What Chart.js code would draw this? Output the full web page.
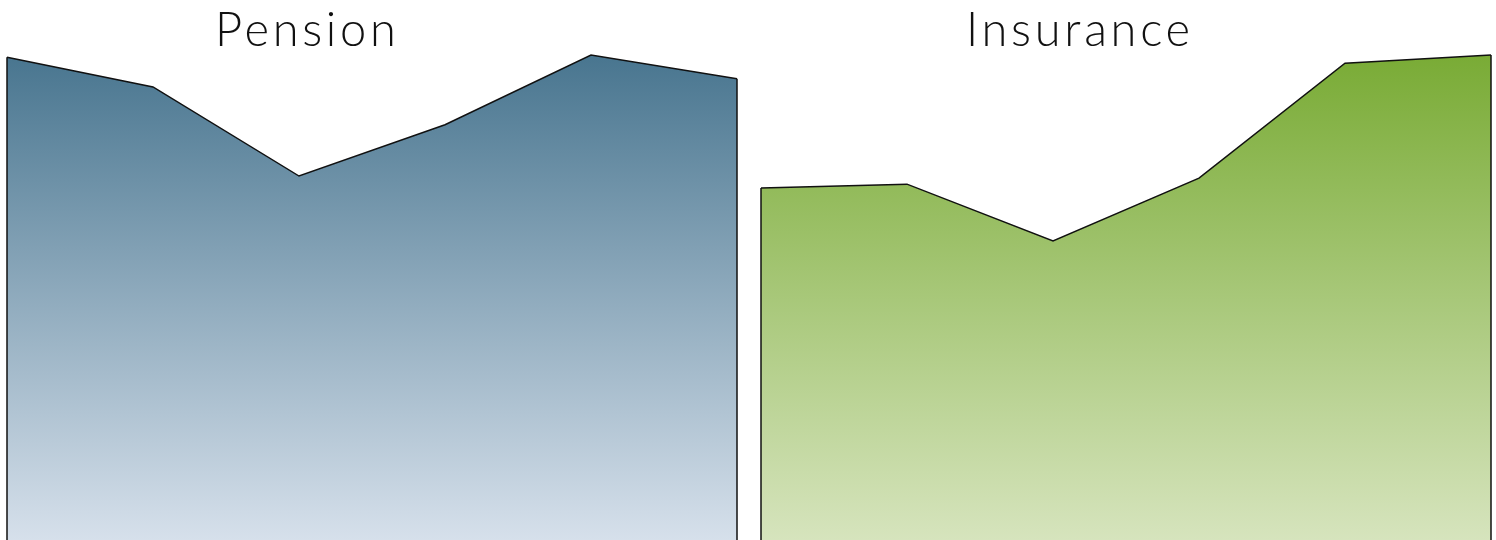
<!DOCTYPE html>
<html>
<head>
<meta charset="utf-8">
<script src="https://cdn.jsdelivr.net/npm/chart.js@4/dist/chart.umd.min.js"></script>
<style>
  html, body { margin: 0; padding: 0; background: #fff; }
  .wrap { position: relative; width: 1496px; height: 540px; overflow: hidden; }
  .panel { position: absolute; top: 0; width: 748px; height: 540px; }
  .panel canvas { display: block; }
  .title {
    position: absolute; top: 0;
    font-family: Lato, "Open Sans", sans-serif; font-weight: 300;
    font-size: 47px; color: #111; letter-spacing: 3.7px; white-space: nowrap;
  }
</style>
</head>
<body>
<div class="wrap">
  <div class="panel" style="left:0"><canvas id="chart-pension" width="748" height="540"></canvas></div>
  <div class="panel" style="left:748px"><canvas id="chart-insurance" width="748" height="540"></canvas></div>
  <div class="title" id="title-pension" style="left:215px">Pension</div>
  <div class="title" id="title-insurance" style="left:966px">Insurance</div>
</div>
<script>
// ─── Data ────────────────────────────────────────────────────────────────────
const periods        = ['P1', 'P2', 'P3', 'P4', 'P5', 'P6'];
const pensionValues   = [89.4, 83.9, 67.4, 76.9, 89.8, 85.4];
const insuranceValues = [65.2, 65.9, 55.4, 67.0, 88.3, 89.8];
const yMin = 0, yMax = 100;

// ─── Closes the area with vertical edges down to the axis ────────────────────
const sideEdges = {
  id: 'sideEdges',
  afterDatasetsDraw(chart) {
    const meta = chart.getDatasetMeta(0);
    const pts = meta.data;
    if (!pts.length) return;
    const bottom = chart.scales.y.getPixelForValue(yMin);
    const ctx = chart.ctx;
    ctx.save();
    ctx.strokeStyle = '#111';
    ctx.lineWidth = 1.5;
    [pts[0], pts[pts.length - 1]].forEach(p => {
      ctx.beginPath();
      ctx.moveTo(p.x, p.y);
      ctx.lineTo(p.x, bottom + 2);
      ctx.stroke();
    });
    ctx.restore();
  },
};

function areaGradient(top, bottom) {
  return function (context) {
    const { chart } = context;
    if (!chart.chartArea) return top;
    const y = chart.scales.y;
    const g = chart.ctx.createLinearGradient(0, y.getPixelForValue(90), 0, y.getPixelForValue(yMin));
    g.addColorStop(0, top);
    g.addColorStop(1, bottom);
    return g;
  };
}

function makeChart(id, values, topColor, bottomColor, padLeft, padRight) {
  return new Chart(document.getElementById(id).getContext('2d'), {
    type: 'line',
    data: {
      labels: periods,
      datasets: [{
        data: values,
        borderColor: '#111',
        borderWidth: 1.5,
        backgroundColor: areaGradient(topColor, bottomColor),
        fill: 'origin',
        tension: 0,
        pointRadius: 0,
      }],
    },
    options: {
      responsive: false, animation: false,
      layout: { padding: { left: padLeft, right: padRight, top: 0, bottom: 0 } },
      plugins: { legend: { display: false }, tooltip: { enabled: false } },
      scales: {
        x: { display: false, offset: false },
        y: { display: false, min: yMin, max: yMax },
      },
    },
    plugins: [sideEdges],
  });
}

makeChart('chart-pension',   pensionValues,   '#48758f', '#d6e0eb', 7, 11);
makeChart('chart-insurance', insuranceValues, '#79ab35', '#d6e4bd', 13, 5);
</script>
</body>
</html>
